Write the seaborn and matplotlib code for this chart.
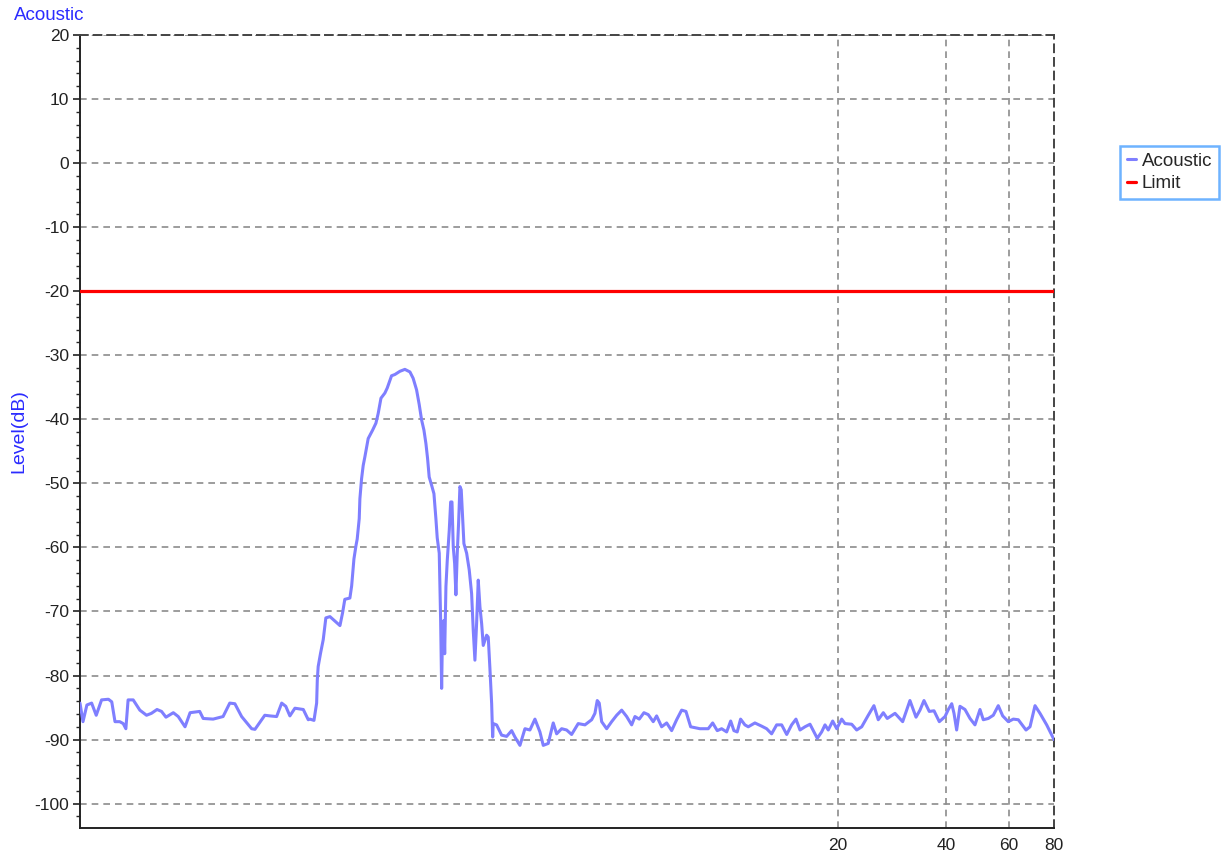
import matplotlib
matplotlib.use("Agg")
import matplotlib.pyplot as plt
from matplotlib.ticker import FixedLocator, NullLocator, MultipleLocator, NullFormatter
import pandas as pd
import seaborn as sns

# Acoustic sweep: frequency and measured level (dB)
freq = [
    0.155, 0.158, 0.162, 0.167, 0.172, 0.178, 0.186, 0.190, 0.194, 0.200,
    0.2045, 0.208, 0.211, 0.218, 0.2275, 0.2375, 0.245, 0.254, 0.2615, 0.269,
    0.282, 0.291, 0.304, 0.314, 0.334, 0.3415, 0.364, 0.388, 0.405, 0.4185,
    0.437, 0.466, 0.476, 0.507, 0.524, 0.547, 0.565, 0.580, 0.5955, 0.615,
    0.649, 0.670, 0.677, 0.695, 0.707, 0.710, 0.714, 0.725, 0.7375, 0.750,
    0.770, 0.795, 0.821, 0.835, 0.847, 0.875, 0.885, 0.898, 0.910, 0.917,
    0.929, 0.933, 0.943, 0.953, 0.963, 0.984, 1.012, 1.034, 1.049, 1.068,
    1.095, 1.112, 1.143, 1.168, 1.206, 1.245, 1.286, 1.313, 1.342, 1.365,
    1.386, 1.407, 1.425, 1.440, 1.455, 1.478, 1.500, 1.519, 1.532, 1.552,
    1.559, 1.566, 1.576, 1.586, 1.599, 1.607, 1.620, 1.634, 1.655, 1.670,
    1.684, 1.698, 1.713, 1.727, 1.742, 1.757, 1.772, 1.787, 1.803, 1.818,
    1.850, 1.881, 1.910, 1.930, 1.951, 1.972, 1.993, 2.015, 2.037, 2.058,
    2.080, 2.103, 2.125, 2.148, 2.172, 2.186, 2.194, 2.242, 2.315, 2.391,
    2.469, 2.522, 2.604, 2.689, 2.776, 2.867, 2.960, 3.024, 3.122, 3.224,
    3.295, 3.402, 3.513, 3.627, 3.784, 3.951, 4.124, 4.212, 4.275, 4.330,
    4.398, 4.541, 4.689, 4.842, 5.000, 5.163, 5.331, 5.445, 5.597, 5.768,
    5.929, 6.122, 6.257, 6.461, 6.672, 6.889, 7.113, 7.345, 7.551, 7.782,
    8.260, 8.712, 8.962, 9.230, 9.493, 9.804, 10.06, 10.27, 10.49, 10.72,
    11.02, 11.26, 11.75, 12.27, 12.67, 13.08, 13.51, 13.95, 14.41, 14.87,
    15.29, 15.69, 16.20, 16.73, 17.53, 18.03, 18.42, 18.81, 19.35, 19.86,
    20.50, 20.94, 21.86, 22.57, 23.31, 24.31, 25.21, 25.92, 26.77, 27.46,
    28.86, 30.31, 31.76, 33.02, 33.87, 34.75, 35.95, 37.06, 38.34, 39.77,
    40.62, 41.52, 42.13, 42.85, 43.77, 45.20, 46.68, 48.19, 49.77, 50.83,
    52.49, 54.20, 55.96, 57.57, 59.68, 61.62, 63.63, 66.85, 68.59, 70.83,
    73.13, 76.33, 80.0,
]
level = [
    -84.3, -87.2, -84.6, -84.3, -86.2, -83.8, -83.7, -84.1, -87.2, -87.2,
    -87.5, -88.3, -83.8, -83.8, -85.4, -86.2, -85.9, -85.3, -85.6, -86.5,
    -85.8, -86.4, -88.0, -85.8, -85.6, -86.7, -86.8, -86.4, -84.3, -84.4,
    -86.4, -88.3, -88.4, -86.2, -86.3, -86.4, -84.3, -84.8, -86.3, -85.1,
    -85.3, -86.9, -86.8, -87.0, -84.3, -80.7, -78.6, -76.5, -74.4, -71.0,
    -70.8, -71.5, -72.2, -70.2, -68.1, -67.9, -66.0, -61.8, -59.7, -58.7,
    -55.5, -52.4, -49.3, -47.2, -45.9, -43.0, -41.7, -40.6, -39.1, -36.7,
    -35.9, -35.1, -33.2, -33.0, -32.5, -32.2, -32.6, -33.6, -35.4, -37.7,
    -40.1, -41.7, -43.8, -46.1, -49.0, -50.3, -51.6, -55.5, -58.5, -60.9,
    -66.1, -71.4, -82.0, -71.9, -71.4, -76.6, -66.1, -62.0, -57.3, -52.9,
    -52.9, -59.9, -62.5, -67.4, -60.9, -56.2, -50.5, -51.0, -55.2, -59.4,
    -60.9, -63.5, -67.2, -72.9, -77.6, -71.9, -65.1, -69.3, -71.9, -75.3,
    -74.5, -73.7, -74.0, -78.9, -84.4, -89.6, -87.5, -87.7, -89.3, -89.5,
    -88.6, -89.6, -90.9, -88.3, -88.5, -86.8, -88.8, -90.9, -90.6, -87.4,
    -89.1, -88.3, -88.5, -89.2, -87.5, -87.7, -86.9, -85.9, -83.9, -84.3,
    -87.2, -88.3, -87.2, -86.2, -85.4, -86.4, -87.7, -86.4, -86.8, -85.8,
    -86.1, -87.2, -86.3, -88.0, -87.4, -88.6, -86.9, -85.4, -85.6, -88.0,
    -88.3, -88.3, -87.4, -88.6, -88.3, -88.8, -87.1, -88.6, -88.8, -86.8,
    -87.7, -88.0, -87.4, -87.9, -88.3, -89.1, -87.7, -87.7, -89.2, -87.7,
    -86.8, -88.5, -88.0, -87.6, -89.8, -88.8, -87.7, -88.5, -87.1, -88.3,
    -86.8, -87.5, -87.6, -88.5, -88.0, -86.2, -84.7, -86.9, -85.8, -86.7,
    -85.9, -87.2, -83.9, -86.5, -85.4, -83.9, -85.6, -85.5, -87.2, -86.4,
    -85.3, -84.4, -85.9, -88.5, -84.8, -85.3, -86.7, -87.7, -85.3, -86.9,
    -86.7, -86.2, -84.7, -86.3, -87.2, -86.8, -86.9, -88.5, -88.0, -84.7,
    -85.9, -87.7, -90.0,
]

# Limit line
limit_freq = [0.15, 80.0]
limit_level = [-20.0, -20.0]

# Axis labelling
y_ticks = list(range(-100, 30, 10))
x_ticks = [20, 40, 60, 80]
x_grid = [20, 40, 60]

sns.set_style("white")
plt.rcParams["font.family"] = ["Liberation Sans", "DejaVu Sans"]
plt.rcParams["axes.unicode_minus"] = False

label_blue = "#2b2bff"
trace_blue = "#7f7fff"
grid_col = "#8c8c8c"

fig = plt.figure(figsize=(12.26, 8.57), dpi=100)
ax = fig.add_axes([80 / 1226, 1 - 828 / 857, (1054 - 80) / 1226, (828 - 35) / 857])

acoustic = pd.DataFrame({"freq": freq, "level": level})
limit = pd.DataFrame({"freq": limit_freq, "level": limit_level})

# grid drawn first, below the traces
for y in y_ticks:
    ax.axhline(y, color=grid_col, lw=1.2, ls=(0, (4, 3)), zorder=0)
for x in x_grid:
    ax.axvline(x, color=grid_col, lw=1.2, ls=(0, (4, 3)), zorder=0)

sns.lineplot(data=limit, x="freq", y="level", ax=ax, color="#ff0000",
             lw=2.3, label="Limit", estimator=None, zorder=3)
sns.lineplot(data=acoustic, x="freq", y="level", ax=ax, color=trace_blue,
             lw=2.2, label="Acoustic", estimator=None, sort=False, zorder=4)

ax.set_xscale("log")
ax.set_xlim(0.155, 80)
ax.set_ylim(-103.8, 20)

ax.xaxis.set_major_locator(FixedLocator(x_ticks))
ax.xaxis.set_minor_locator(NullLocator())
ax.xaxis.set_minor_formatter(NullFormatter())
ax.set_xticklabels([str(t) for t in x_ticks])
ax.tick_params(axis="x", length=0, pad=7, labelsize=12.5, colors="#222222")

ax.yaxis.set_major_locator(FixedLocator(y_ticks))
ax.yaxis.set_minor_locator(MultipleLocator(2))
ax.tick_params(axis="y", which="major", direction="out", length=5, width=1.2,
               labelsize=12.5, colors="#222222", left=True, pad=3)
ax.tick_params(axis="y", which="minor", direction="out", length=3, width=1.0,
               left=True)

ax.set_xlabel("")
ax.set_ylabel("Level(dB)", color=label_blue, fontsize=14)
ax.yaxis.set_label_coords(-0.054, 0.5)

for side in ("left", "bottom"):
    ax.spines[side].set_color("#222222")
    ax.spines[side].set_linewidth(1.4)
for side in ("top", "right"):
    ax.spines[side].set_color("#444444")
    ax.spines[side].set_linewidth(1.4)
    ax.spines[side].set_linestyle((0, (4, 3)))

fig.text(14 / 1226, 1 - 16 / 857, "Acoustic", color=label_blue, fontsize=13.5,
         ha="left", va="center")

handles, labels = ax.get_legend_handles_labels()
order = [labels.index("Acoustic"), labels.index("Limit")]
leg = ax.legend([handles[i] for i in order], [labels[i] for i in order],
                loc="upper left", bbox_to_anchor=(1120 / 1226, 1 - 146 / 857),
                bbox_transform=fig.transFigure, borderaxespad=0,
                frameon=True, fancybox=False, fontsize=13.5,
                handlelength=0.5, handletextpad=0.3, borderpad=0.35,
                labelspacing=0.3)
leg.get_frame().set_edgecolor("#4aa0ff")
leg.get_frame().set_linewidth(1.8)

fig.savefig("out.png", dpi=100)
